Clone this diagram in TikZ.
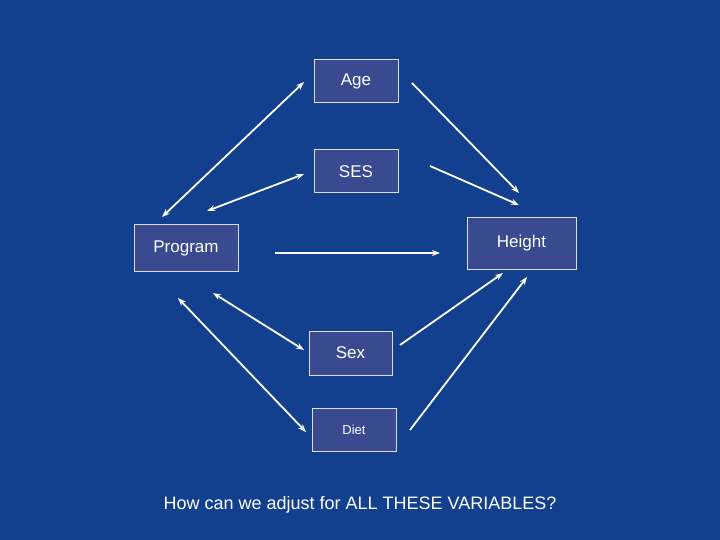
\documentclass[tikz,border=0pt]{standalone}
\usepackage{fontspec}
\setmainfont{Liberation Sans}
\usetikzlibrary{arrows.meta}
\begin{document}
\begin{tikzpicture}[x=1pt,y=-1pt,
  box/.style={draw=white!75!gray,fill=boxfill,line width=1pt,inner sep=0pt,text=white,font=\fontsize{17}{20}\selectfont},
  conn/.style={white,line width=1.8pt,-{Stealth[length=8pt,width=6pt]}},
  dconn/.style={white,line width=1.8pt,{Stealth[length=8pt,width=6pt]}-{Stealth[length=8pt,width=6pt]}}]
\definecolor{bg}{HTML}{12408F}
\definecolor{boxfill}{HTML}{3A4A90}
\fill[bg] (0,0) rectangle (720,540);
\useasboundingbox (0,0) rectangle (720,540);
\node[box,minimum width=84pt,minimum height=43pt] (age) at (356,81.5) {Age};
\node[box,minimum width=84pt,minimum height=43pt] (ses) at (356,171.5) {SES};
\node[box,minimum width=104pt,minimum height=46pt] (prog) at (186,248) {Program};
\node[box,minimum width=109pt,minimum height=51pt] (hgt) at (521.5,243.5) {Height};
\node[box,minimum width=83pt,minimum height=44pt] (sex) at (350.5,353) {Sex};
\node[box,minimum width=84pt,minimum height=43pt,font=\fontsize{13}{15}\selectfont] (diet) at (354,429.5) {Diet};
\node[text=white,font=\fontsize{18}{21}\selectfont] (q) at (360,505) {How can we adjust for ALL THESE VARIABLES?};
\coordinate (a1) at (162,217); \coordinate (a2) at (304,82);
\coordinate (b1) at (207,211); \coordinate (b2) at (304,174);
\coordinate (c1) at (412,83); \coordinate (c2) at (519,193);
\coordinate (d1) at (430,166); \coordinate (d2) at (519,205);
\coordinate (e1) at (275,253); \coordinate (e2) at (440,253);
\coordinate (f1) at (213,293); \coordinate (f2) at (304,350);
\coordinate (g1) at (178,298); \coordinate (g2) at (306,432);
\coordinate (h1) at (400,345); \coordinate (h2) at (503,273);
\coordinate (i1) at (410,430); \coordinate (i2) at (527,277);
\draw[dconn] (a1) -- (a2);
\draw[dconn] (b1) -- (b2);
\draw[conn] (c1) -- (c2);
\draw[conn] (d1) -- (d2);
\draw[conn] (e1) -- (e2);
\draw[dconn] (f1) -- (f2);
\draw[dconn] (g1) -- (g2);
\draw[conn] (h1) -- (h2);
\draw[conn] (i1) -- (i2);
\end{tikzpicture}
\end{document}
